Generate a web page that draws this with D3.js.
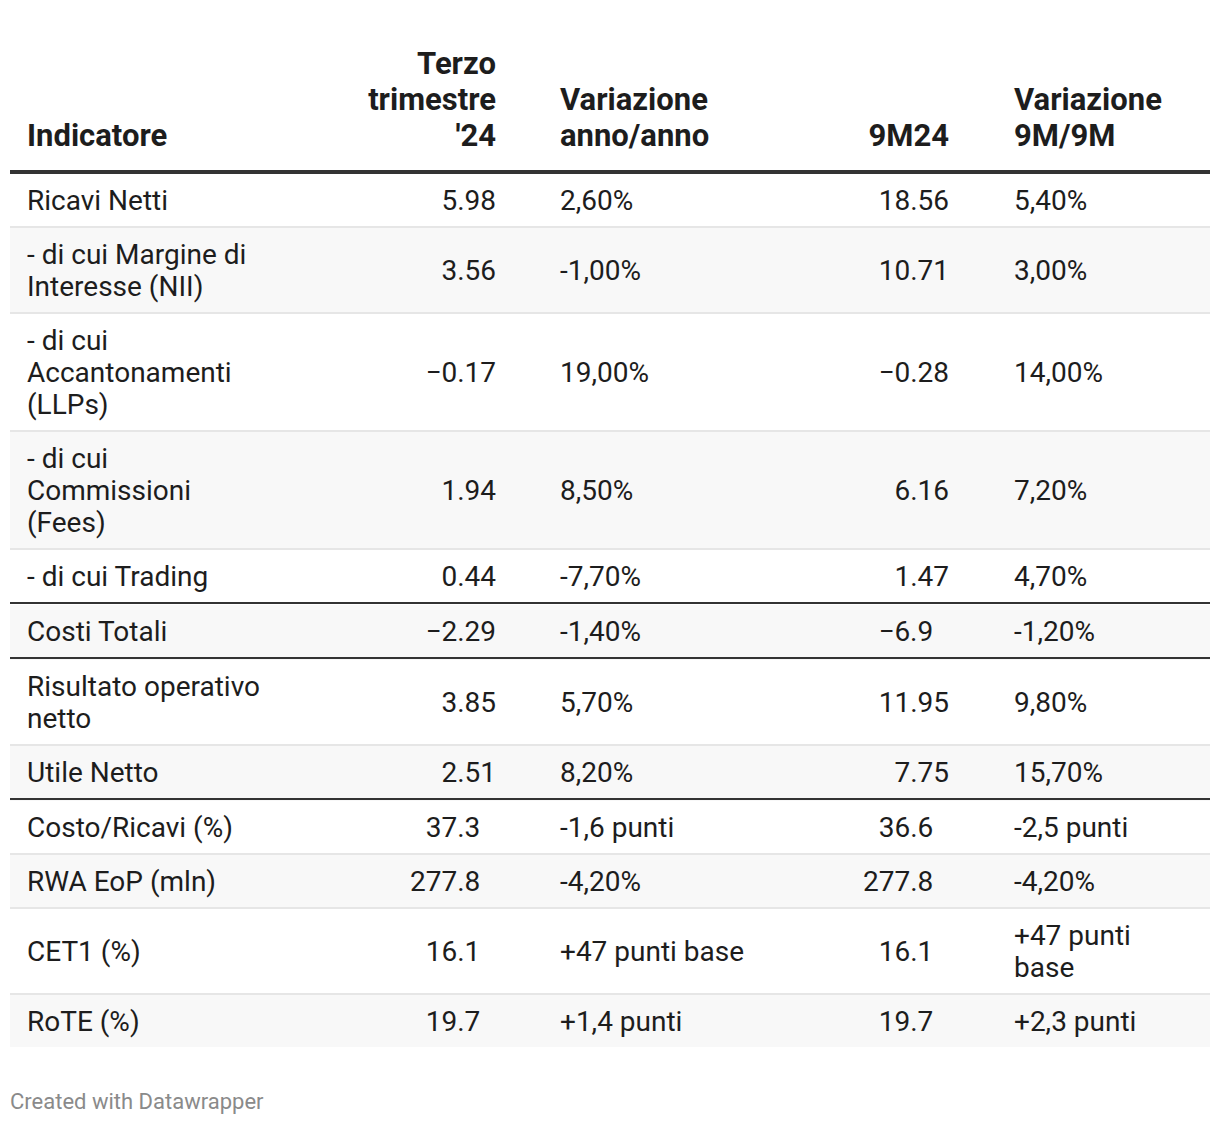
<!DOCTYPE html>
<html><head><meta charset="utf-8">
<script src="https://cdn.jsdelivr.net/npm/d3@7"></script>
<style>
body{margin:0;background:#fff}
svg{display:block}
text{font-family:Roboto,"Noto Sans",sans-serif}
</style>
</head><body><svg id="chart" width="1220" height="1124"></svg>
<script>
// ---- data ----
const headers = ["Indicatore", "Terzo\ntrimestre\n'24", "Variazione\nanno/anno", "9M24", "Variazione\n9M/9M"];
const indicators = ["Ricavi Netti", "- di cui Margine di\nInteresse (NII)", "- di cui\nAccantonamenti\n(LLPs)", "- di cui\nCommissioni\n(Fees)", "- di cui Trading", "Costi Totali", "Risultato operativo\nnetto", "Utile Netto", "Costo/Ricavi (%)", "RWA EoP (mln)", "CET1 (%)", "RoTE (%)"];
const q3Values = [5.98, 3.56, -0.17, 1.94, 0.44, -2.29, 3.85, 2.51, 37.3, 277.8, 16.1, 19.7];
const yoyChange = ["2,60%", "-1,00%", "19,00%", "8,50%", "-7,70%", "-1,40%", "5,70%", "8,20%", "-1,6 punti", "-4,20%", "+47 punti base", "+1,4 punti"];
const m9Values = [18.56, 10.71, -0.28, 6.16, 1.47, -6.9, 11.95, 7.75, 36.6, 277.8, 16.1, 19.7];
const m9Change = ["5,40%", "3,00%", "14,00%", "7,20%", "4,70%", "-1,20%", "9,80%", "15,70%", "-2,5 punti", "-4,20%", "+47 punti\nbase", "+2,3 punti"];
const darkRuleAfter = ["- di cui Trading", "Costi Totali", "Utile Netto"];
const footer = "Created with Datawrapper";

// ---- layout ----
const left = 10, right = 1210;
const bodyFont = 28, headFont = 31, lineH = 32, headLineH = 36, rowPad = 10;
const textColor = "#1d1d1d";
const cols = [
  {x: 27, anchor: "start", type: "text"},
  {x: 496, anchor: "end", type: "num"},
  {x: 560, anchor: "start", type: "text"},
  {x: 949, anchor: "end", type: "num"},
  {x: 1014, anchor: "start", type: "text"}
];
const headBaseline = 146, tableTop = 174;

const svg = d3.select("#chart");
const fmt = d3.format("");
const decimals = v => { const s = String(v); const i = s.indexOf("."); return i < 0 ? 0 : s.length - i - 1; };

// digit width for decimal alignment of numeric columns
const probe = svg.append("text").attr("font-size", bodyFont).text("0");
const digitW = probe.node().getComputedTextLength();
probe.remove();

const maxDecQ3 = d3.max(q3Values, decimals), maxDecM9 = d3.max(m9Values, decimals);

const rows = indicators.map((name, i) => ({
  cells: [name, q3Values[i], yoyChange[i], m9Values[i], m9Change[i]],
  dark: darkRuleAfter.includes(name),
  last: i === indicators.length - 1,
  stripe: i % 2 === 1
}));
const nLines = c => (typeof c === "string" ? c.split("\n").length : 1);
let y = tableTop;
rows.forEach(r => {
  r.lines = d3.max(r.cells, nLines);
  r.content = r.lines * lineH + 2 * rowPad;
  r.y = y;
  r.step = r.last ? r.content : r.content + 2 + (r.dark ? 1 : 0);
  y += r.step;
});

// header
headers.forEach((h, j) => {
  const lines = h.split("\n");
  const t = svg.append("text")
    .attr("font-size", headFont).attr("font-weight", 700).attr("fill", textColor)
    .attr("text-anchor", cols[j].anchor);
  lines.forEach((ln, k) => {
    t.append("tspan").attr("x", cols[j].x)
      .attr("y", headBaseline - (lines.length - 1 - k) * headLineH).text(ln);
  });
});

// rows
const rg = svg.append("g").selectAll("g.row").data(rows).join("g").attr("class", "row");
rg.append("rect").attr("x", left).attr("width", right - left)
  .attr("y", d => d.y).attr("height", d => d.step)
  .attr("fill", d => d.stripe ? "#f8f8f8" : "#ffffff");
rg.filter(d => !d.last).append("rect")
  .attr("x", left).attr("width", right - left)
  .attr("y", d => d.y + d.content).attr("height", 2)
  .attr("fill", d => d.dark ? "#333333" : "#e6e6e6");

rg.each(function(r) {
  const sel = d3.select(this);
  const cy = r.y + r.content / 2;
  r.cells.forEach((c, j) => {
    let txt, x = cols[j].x;
    if (cols[j].type === "num") {
      txt = fmt(c);
      const md = j === 1 ? maxDecQ3 : maxDecM9;
      x -= (md - decimals(c)) * digitW;
    } else txt = c;
    const lines = String(txt).split("\n");
    const t = sel.append("text").attr("font-size", bodyFont).attr("fill", textColor)
      .attr("text-anchor", cols[j].anchor);
    lines.forEach((ln, k) => {
      const lc = cy + (k - (lines.length - 1) / 2) * lineH;
      t.append("tspan").attr("x", x).attr("y", lc + 0.355 * bodyFont).text(ln);
    });
  });
});

// header rule
svg.append("rect").attr("x", left).attr("width", right - left)
  .attr("y", 170).attr("height", 4).attr("fill", "#333333");

// footer
svg.append("text").attr("x", 10).attr("y", 1109).attr("font-size", 22)
  .attr("fill", "#8a8a8a").text(footer);
</script>
</body></html>
